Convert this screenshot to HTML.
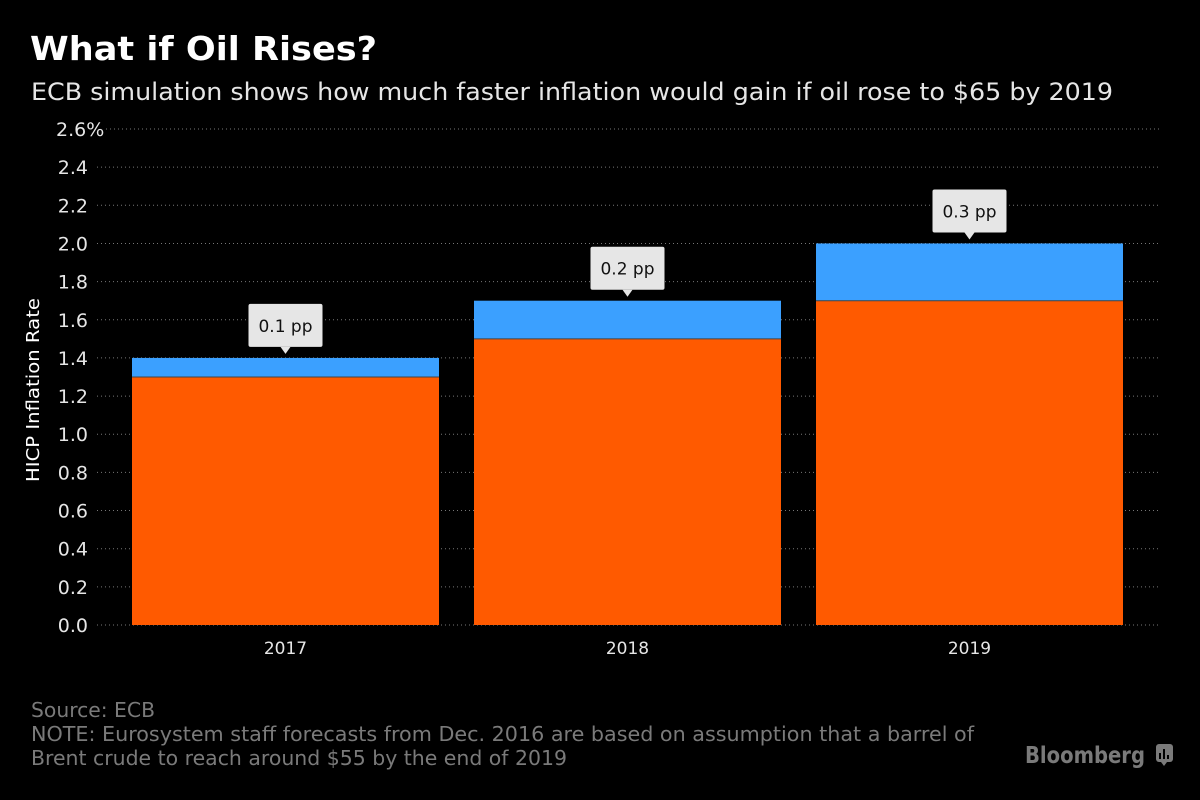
<!DOCTYPE html>
<html><head><meta charset="utf-8"><style>
html,body{margin:0;padding:0;background:#000;width:1200px;height:800px;overflow:hidden}
svg{display:block}
text{font-family:"DejaVu Sans","Liberation Sans",sans-serif}
</style></head><body>
<svg id="c" width="1200" height="800">
<text x="30" y="60" fill="#fff" font-size="33" font-weight="bold" font-family="Liberation Sans" textLength="347" lengthAdjust="spacingAndGlyphs">What if Oil Rises?</text>
<text x="31" y="100" fill="#e6e6e6" font-size="24" textLength="1082" lengthAdjust="spacingAndGlyphs">ECB simulation shows how much faster inflation would gain if oil rose to $65 by 2019</text>
<text transform="translate(39,390) rotate(-90)" text-anchor="middle" fill="#fff" font-size="18" textLength="184" lengthAdjust="spacingAndGlyphs">HICP Inflation Rate</text>
<g id="grid"></g><g id="bars"></g><g id="labels"></g>
<text x="31" y="717" fill="#7a7a7a" font-size="20" textLength="124" lengthAdjust="spacingAndGlyphs">Source: ECB</text>
<text x="31" y="741" fill="#7a7a7a" font-size="20" textLength="943" lengthAdjust="spacingAndGlyphs">NOTE: Eurosystem staff forecasts from Dec. 2016 are based on assumption that a barrel of</text>
<text x="31" y="765" fill="#7a7a7a" font-size="20" textLength="536" lengthAdjust="spacingAndGlyphs">Brent crude to reach around $55 by the end of 2019</text>
<text x="1025" y="763" fill="#7a7a7a" font-size="23" font-weight="bold" font-family="Liberation Sans" textLength="120" lengthAdjust="spacingAndGlyphs">Bloomberg</text>
<g><rect x="1156" y="744" width="17" height="18" rx="3" fill="#7a7a7a"/><path d="M1161 762 l3 4 l3 -4z" fill="#7a7a7a"/><rect x="1159" y="753" width="2" height="6" fill="#000"/><rect x="1163" y="749" width="2" height="10" fill="#000"/><rect x="1167" y="755" width="2" height="4" fill="#000"/></g>
</svg>
<script>
const categories=["2017","2018","2019"];
const baseline=[1.3,1.5,1.7];
const oilBoost=[0.1,0.2,0.3];
const boostLabels=["0.1 pp","0.2 pp","0.3 pp"];
const yTicks=[0,0.2,0.4,0.6,0.8,1.0,1.2,1.4,1.6,1.8,2.0,2.2,2.4,2.6];
const NS="http://www.w3.org/2000/svg";
const y0=625,yTop=129,yMax=2.6;
const y=v=>y0-(v/yMax)*(y0-yTop);
const plotL=132,plotR=1123,bw=307;
const step=(plotR-plotL-bw)/(categories.length-1);
const x=i=>plotL+i*step;
function mk(t,a,p){const e=document.createElementNS(NS,t);for(const k in a)e.setAttribute(k,a[k]);p.appendChild(e);return e;}
const grid=document.getElementById('grid'),bars=document.getElementById('bars'),labels=document.getElementById('labels');
yTicks.forEach((v,i)=>{
 const last=i===yTicks.length-1;
 const l=mk('line',{x1:last?106:97,x2:1160,y1:y(v),y2:y(v),stroke:'#777','stroke-width':1,'stroke-dasharray':'1,3'},grid);
 
 
 const t=mk('text',{x:88,y:y(v)+7,'text-anchor':'end',fill:'#e6e6e6','font-size':19},grid);
 t.textContent=v.toFixed(1);
 if(last){t.setAttribute('text-anchor','start');t.setAttribute('x',56);t.textContent=v.toFixed(1)+'%';}
 
 
});
categories.forEach((c,i)=>{
 const xb=x(i);
 const r1=mk('rect',{x:xb,y:y(baseline[i]),width:bw,height:y0-y(baseline[i]),fill:'#ff5a00'},bars);
 
 
 const tot=baseline[i]+oilBoost[i];
 const r2=mk('rect',{x:xb,y:y(tot),width:bw,height:y(baseline[i])-y(tot),fill:'#3ba0ff'},bars);
 
 
 const sep=mk('line',{x1:xb,x2:xb+bw,y1:y(baseline[i]),y2:y(baseline[i]),stroke:'#444','stroke-width':1},bars);
 
 
 const cx=xb+bw/2;
 const xt=mk('text',{x:cx,y:654,'text-anchor':'middle',fill:'#e6e6e6','font-size':17},labels);
 xt.textContent=c;
 
 
 const by=y(tot)-10;
 const g=mk('g',{},labels);
 
 
 mk('rect',{x:cx-37,y:by-44,width:74,height:43,rx:2,fill:'#e6e6e6'},g);
 mk('path',{d:`M${cx-5} ${by-1} L${cx} ${by+6} L${cx+5} ${by-1}Z`,fill:'#e6e6e6'},g);
 const lt=mk('text',{x:cx,y:by-16,'text-anchor':'middle',fill:'#111','font-size':17,'font-family':'Liberation Sans'},g);
 lt.textContent=boostLabels[i];
});
</script>
</body></html>
